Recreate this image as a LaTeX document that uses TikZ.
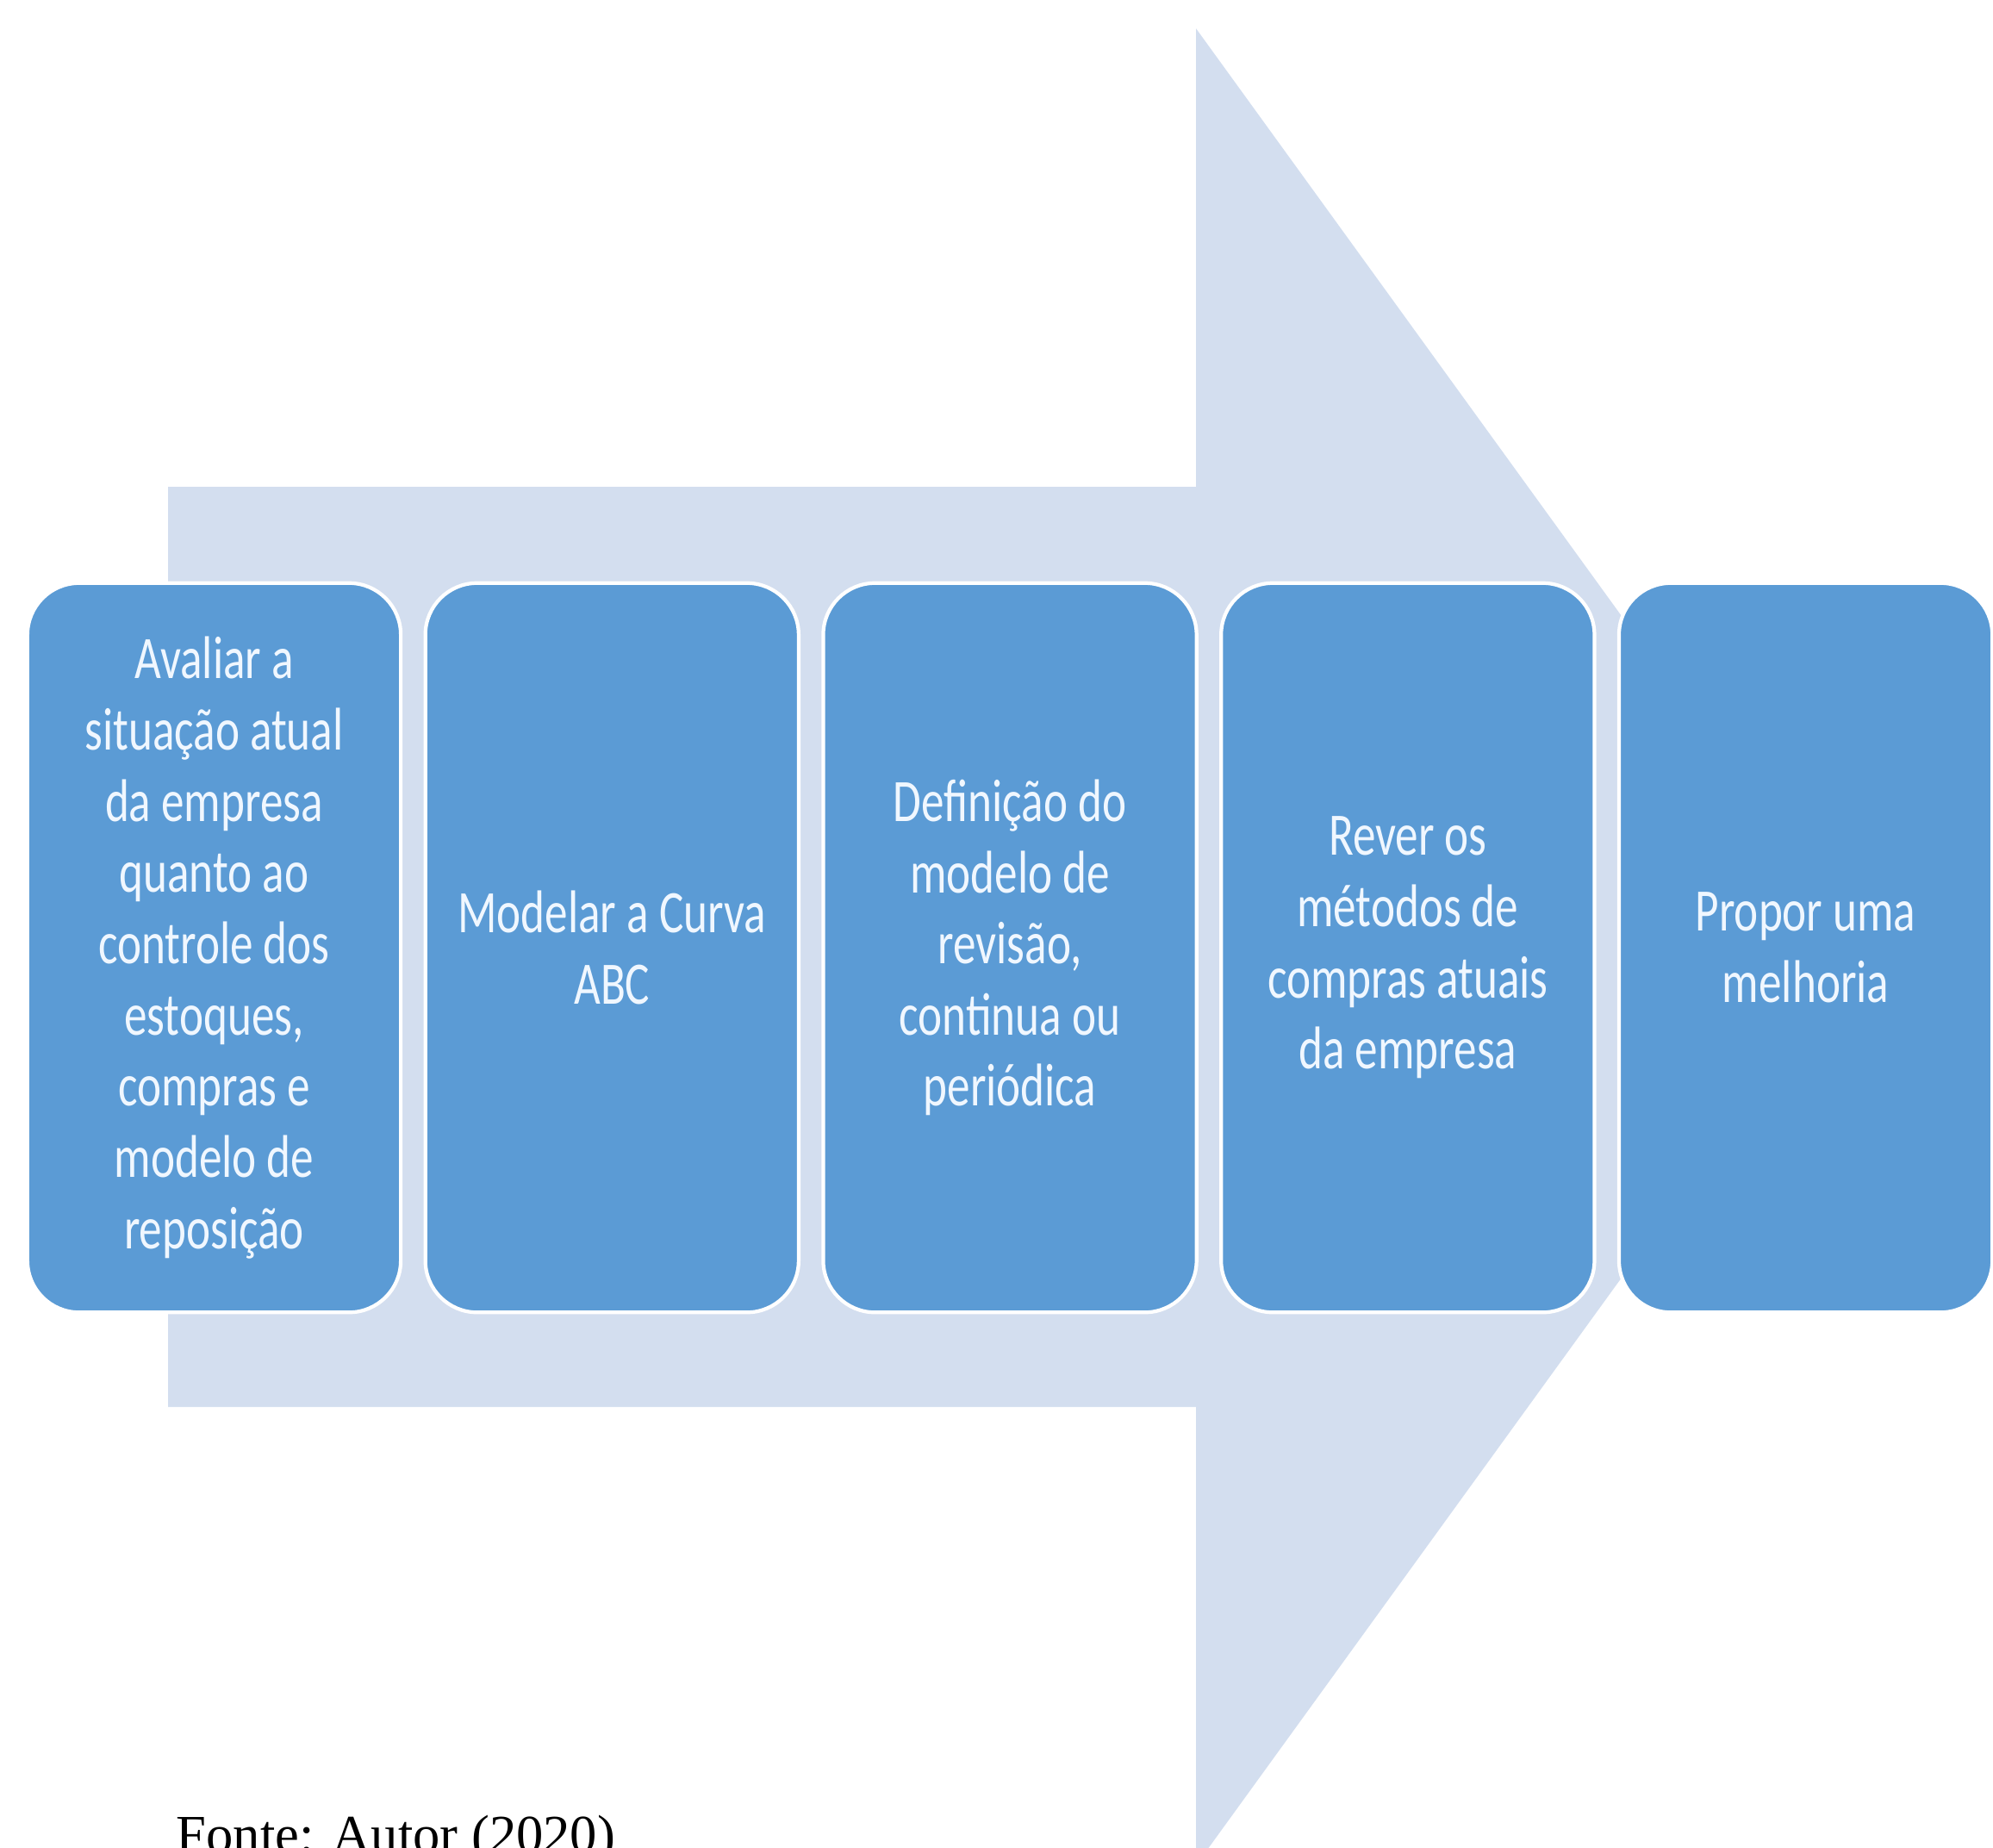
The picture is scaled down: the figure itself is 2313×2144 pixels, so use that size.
\documentclass[tikz,border=0pt]{standalone}
\usepackage{fontspec}
\usetikzlibrary{positioning}
\newfontfamily\stepfont[FakeStretch=0.76]{Carlito}
\newfontfamily\notefont{Liberation Serif}
\definecolor{arrowblue}{HTML}{D3DEEF}
\definecolor{boxblue}{HTML}{5B9BD5}
\definecolor{textwhite}{HTML}{F0F7FF}
\begin{document}
\begin{tikzpicture}[x=0.01cm, y=-0.01cm]
		\tikzset{
			stage/.style={draw=white, line width=1.2pt, fill=boxblue, rounded corners=0.6cm,
				minimum width=4.33cm, minimum height=8.46cm, inner sep=0pt, outer sep=0pt,
				align=center, text=textwhite,
				font=\stepfont\fontsize{19.9pt}{23.5pt}\selectfont},
			note/.style={anchor=base west, inner sep=0pt,
				font=\notefont\fontsize{17.8pt}{20pt}\selectfont},
		}
		\useasboundingbox (0,0) rectangle (2313,2144);
		
		% The big arrow behind everything.
		\coordinate (st) at (195,565);  % shaft top left
		\coordinate (sb) at (195,1633); % shaft bottom left
		\coordinate (ht) at (1388,33);  % head top
		\coordinate (hb) at (1388,2165); % head bottom
		\coordinate (tip) at (2160,1099);
		\fill[arrowblue] (st) -- (st -| ht) -- (ht) -- (tip) -- (hb) -- (sb -| hb) -- (sb) -- cycle;
		
		% The five stages, left to right.
		\node[stage] (avaliar) at (248.5,1100) {Avaliar a\\situação atual\\da empresa\\quanto ao\\controle dos\\estoques,\\compras e\\modelo de\\reposição};
		\node[stage, right=0.285cm of avaliar] (modelar) {Modelar a Curva\\ABC};
		\node[stage, right=0.285cm of modelar] (definir) {Definição do\\modelo de\\revisão,\\continua ou\\periódica};
		\node[stage, right=0.285cm of definir] (rever) {Rever os\\métodos de\\compras atuais\\da empresa};
		\node[stage, right=0.285cm of rever] (propor) {Propor uma\\melhoria};
		
		% Source line at the bottom.
		\node[note] (fonte) at (204,2150) {Fonte: Autor (2020)};
	\end{tikzpicture}
\end{document}
